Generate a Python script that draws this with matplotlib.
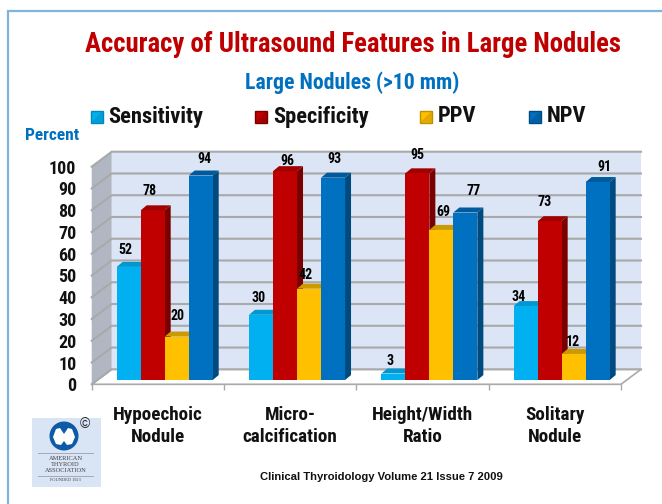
import matplotlib
matplotlib.use("Agg")
import matplotlib.pyplot as plt
from matplotlib import font_manager as fm
from matplotlib.patches import Polygon, Rectangle, Circle

W, H = 662, 504
categories = ["Hypoechoic\nNodule", "Micro-\ncalcification", "Height/Width\nRatio", "Solitary\nNodule"]
series_names = ["Sensitivity", "Specificity", "PPV", "NPV"]
sensitivity = [52, 30, 3, 34]
specificity = [78, 96, 95, 73]
ppv = [20, 42, 69, 12]
npv = [94, 93, 77, 91]
y_ticks = list(range(0, 101, 10))

title = "Accuracy of Ultrasound Features in Large Nodules"
subtitle = "Large Nodules (>10 mm)"
y_title = "Percent"
source = "Clinical Thyroidology Volume 21 Issue 7 2009"

# label nudges in pixels from the bar's top centre (the original labels were hand placed)
label_dx = [[-3, -3, 1, 4], [-2, 2, -3, 1], [-3, 0, 2, 8], [-7, -5, -1, 7]]
label_dy = [[-17, -19, -21, -17], [-17, -10, -14, -19], [-13, -18, -18, -22], [-9, -19, -12, -15]]

front = ["#00b0f0", "#c00000", "#ffc000", "#0070c0"]
side = ["#0088ba", "#7a0000", "#bf9000", "#004a80"]
top = ["#0098d0", "#a00000", "#cc9a00", "#005a9c"]

names = {f.name for f in fm.fontManager.ttflist}
narrow = "Roboto Condensed" if "Roboto Condensed" in names else "Liberation Sans"

fig = plt.figure(figsize=(W / 100, H / 100), dpi=100, facecolor="white")
over = fig.add_axes([0, 0, 1, 1], zorder=5)
over.set_xlim(0, W); over.set_ylim(H, 0); over.axis("off"); over.patch.set_alpha(0)

# chart axes: front plane of the 3-D box
x0, x1, y_base, y_top = 91.7, 621.0, 384.3, 166.7
ax = fig.add_axes([x0 / W, 1 - y_base / H, (x1 - x0) / W, (y_base - y_top) / H], zorder=2)
ax.set_xlim(0, 4); ax.set_ylim(0, 100)
ax.patch.set_alpha(0)
ux = (x1 - x0) / 4
uy = (y_base - y_top) / 100
DX, DY = 20 / ux, 15 / uy
grid_c = "#a9a9a9"

ax.add_patch(Polygon([(0, 0), (DX, DY), (4 + DX, DY), (4, 0)], fc="white", ec=grid_c, lw=1.2, clip_on=False, zorder=1))
ax.add_patch(Polygon([(DX, DY), (4 + DX, DY), (4 + DX, 100 + DY), (DX, 100 + DY)], fc="#dbe5f5", ec="none", clip_on=False, zorder=1))
ax.add_patch(Polygon([(0, 0), (DX, DY), (DX, 100 + DY), (0, 100)], fc="#b0b7c3", ec="none", clip_on=False, zorder=1))
for t in y_ticks:
    ax.plot([0, DX, 4 + DX], [t, t + DY, t + DY], color=grid_c, lw=1.5, clip_on=False, zorder=2,
            solid_joinstyle="miter")

bar_w = 24 / ux
bar_dx, bar_dy = 6 / ux, 5 / uy
start, base = 25 / ux, 1.95
values = [sensitivity, specificity, ppv, npv]
z = 3
for g in range(4):
    for s in range(4):
        v = values[s][g]
        left = g + start + s * bar_w
        right = left + bar_w
        ax.add_patch(Polygon([(right, base), (right + bar_dx, base + bar_dy), (right + bar_dx, base + v + bar_dy), (right, base + v)],
                             fc=side[s], ec="none", clip_on=False, zorder=z))
        ax.add_patch(Polygon([(left, base + v), (left + bar_dx, base + v + bar_dy), (right + bar_dx, base + v + bar_dy), (right, base + v)],
                             fc=top[s], ec="none", clip_on=False, zorder=z))
        ax.bar(left, v, bar_w, bottom=base, align="edge", color=front[s], linewidth=0, clip_on=False, zorder=z + 0.5)
        z += 1

# value labels above everything
for g in range(4):
    for s in range(4):
        v = values[s][g]
        xc = g + start + (s + 0.5) * bar_w
        ax.annotate(str(v), (xc, base + v), xytext=(label_dx[g][s] * 0.72, -label_dy[g][s] * 0.72),
                    textcoords="offset points", ha="center", va="center", family=narrow,
                    fontweight="bold", fontsize=10, color="black", zorder=50, annotation_clip=False)

for sp in ax.spines.values():
    sp.set_visible(False)
ax.set_yticks(y_ticks)
ax.set_yticklabels([str(t) for t in y_ticks], family=narrow, fontweight="bold", fontsize=13, color="#111111")
ax.tick_params(axis="y", length=0, pad=11)
ax.set_xticks([i + 0.5 for i in range(4)])
ax.set_xticklabels(categories, family=narrow, fontweight="bold", fontsize=13.8, color="#111111", linespacing=1.3)
ax.set_xticks(range(5), minor=True)
ax.tick_params(axis="x", which="major", length=0, pad=15.5)
ax.tick_params(axis="x", which="minor", length=4.5, width=1, color=grid_c)

# slide frame
over.plot([7.7, 7.7, W], [H, 11, 11], color="#7fb5dc", lw=1.6, solid_joinstyle="miter")

# headings
over.text(353, 45, title, ha="center", va="center", family=narrow, fontweight="bold", fontsize=19.3, color="#c00000")
over.text(352, 83, subtitle, ha="center", va="center", family=narrow, fontweight="bold", fontsize=15.7, color="#0070c0")
over.text(52, 136, y_title, ha="center", va="center", family=narrow, fontweight="bold", fontsize=12.5, color="#0070c0")
over.text(381.5, 477, source, ha="center", va="center", family="Liberation Sans", fontweight="bold", fontsize=8.1, color="#111111")

# legend
sq_x = [91, 255, 420, 529]
tx_x = [108, 273, 438, 547]
for i, nm in enumerate(series_names):
    over.add_patch(Rectangle((sq_x[i], 110.7), 12, 12, fc=front[i], ec=side[i], lw=1))
    over.add_patch(Polygon([(sq_x[i], 122.7), (sq_x[i] + 12, 110.7), (sq_x[i] + 12, 122.7)], fc=side[i], ec="none", alpha=0.45))
    over.text(tx_x[i], 116.5, nm, ha="left", va="center", family=narrow, fontweight="bold", fontsize=16.2, color="#111111")

# association logo
over.add_patch(Rectangle((32, 418), 69, 69, fc="#d9e4f5", ec="none"))
over.add_patch(Circle((64, 436), 14.5, fc="#0f5aa6", ec="none"))
over.add_patch(Polygon([(56, 429), (60, 428), (64, 434), (68, 428), (72, 429), (75, 437), (72, 444), (67, 445), (64, 441),
                        (61, 445), (56, 444), (53, 437)], fc="white", ec="none"))
over.text(84.5, 424, "©", ha="center", va="center", fontsize=10, family="Liberation Sans", color="#222222")
over.plot([38, 93], [453, 453], color="#9aa0aa", lw=0.6)
over.plot([38, 93], [476, 476], color="#9aa0aa", lw=0.6)
for yy, tt, fs in [(458, "AMERICAN", 4.6), (464.5, "THYROID", 4.6), (471, "ASSOCIATION", 4.6), (480, "FOUNDED 1923", 3.2)]:
    over.text(65.5, yy, tt, ha="center", va="center", family="Liberation Serif", fontsize=fs, color="#444444")

fig.savefig("out.png", dpi=100, facecolor="white")
